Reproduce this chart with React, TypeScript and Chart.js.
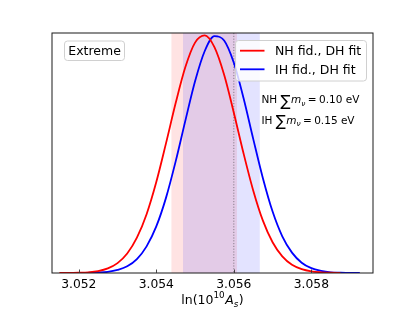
import React, { useEffect, useRef } from "react";
import { Chart, registerables } from "chart.js";

Chart.register(...registerables);

// ---- data ----
const redX = [3.0515, 3.05175, 3.052, 3.05225, 3.0525, 3.05275, 3.053, 3.05325, 3.0535, 3.05375, 3.054, 3.05425, 3.0545, 3.05475, 3.055, 3.05525, 3.0555, 3.05575, 3.056, 3.05625, 3.0565, 3.05675, 3.057, 3.05725, 3.0575, 3.05775, 3.058, 3.05825, 3.0585, 3.05875];
const redY = [0.0, 0.0, 0.001, 0.003, 0.008, 0.019, 0.041, 0.081, 0.147, 0.245, 0.379, 0.54, 0.708, 0.858, 0.96, 0.99, 0.941, 0.826, 0.668, 0.499, 0.344, 0.218, 0.128, 0.069, 0.034, 0.016, 0.007, 0.003, 0.001, 0.0];

const blueX = [3.05225, 3.0525, 3.05275, 3.053, 3.05325, 3.0535, 3.05375, 3.054, 3.05425, 3.0545, 3.05475, 3.055, 3.05525, 3.0555, 3.05575, 3.056, 3.05625, 3.0565, 3.05675, 3.057, 3.05725, 3.0575, 3.05775, 3.058, 3.05825, 3.0585, 3.05875, 3.059, 3.05925];
const blueY = [0.001, 0.002, 0.005, 0.013, 0.028, 0.058, 0.111, 0.194, 0.313, 0.465, 0.635, 0.799, 0.925, 0.987, 0.969, 0.876, 0.729, 0.559, 0.395, 0.256, 0.153, 0.085, 0.043, 0.02, 0.009, 0.003, 0.001, 0.0, 0.0];

const redBand = [3.05439, 3.05608];
const blueBand = [3.05469, 3.05667];
const fiducialX = 3.056;

const xTicks = [3.052, 3.054, 3.056, 3.058];
const xMin = 3.05131;
const xMax = 3.05959;

const seriesLabels = ["NH fid., DH fit", "IH fid., DH fit"];
const seriesColors = ["#ff0000", "#0000ff"];
const panelLabel = "Extreme";
const annoHier = ["NH", "IH"];
const annoSum = ["0.10 eV", "0.15 eV"];

const FAM = "'DejaVu Sans', sans-serif";

function roundRect(ctx: CanvasRenderingContext2D, x: number, y: number, w: number, h: number, r: number) {
  ctx.beginPath();
  ctx.moveTo(x + r, y);
  ctx.lineTo(x + w - r, y);
  ctx.arcTo(x + w, y, x + w, y + r, r);
  ctx.lineTo(x + w, y + h - r);
  ctx.arcTo(x + w, y + h, x + w - r, y + h, r);
  ctx.lineTo(x + r, y + h);
  ctx.arcTo(x, y + h, x, y + h - r, r);
  ctx.lineTo(x, y + r);
  ctx.arcTo(x, y, x + r, y, r);
  ctx.closePath();
}

const decor = {
  id: "decor",
  beforeDatasetsDraw(chart: any) {
    const { ctx, chartArea: a, scales } = chart;
    const xs = scales.x;
    ctx.save();
    const band = (r: number[], color: string) => {
      const x1 = xs.getPixelForValue(r[0]);
      const x2 = xs.getPixelForValue(r[1]);
      ctx.fillStyle = color;
      ctx.fillRect(x1, a.top, x2 - x1, a.bottom - a.top);
    };
    band(redBand, "rgba(255,0,0,0.11)");
    band(blueBand, "rgba(0,0,255,0.11)");
    const fx = xs.getPixelForValue(fiducialX);
    ctx.strokeStyle = "rgba(0,0,0,0.5)";
    ctx.lineWidth = 0.8;
    ctx.setLineDash([1.2, 1.6]);
    ctx.beginPath();
    ctx.moveTo(fx, a.top);
    ctx.lineTo(fx, a.bottom);
    ctx.stroke();
    ctx.restore();
  },
  afterDraw(chart: any) {
    const { ctx, chartArea: a, scales } = chart;
    const xs = scales.x;
    ctx.save();
    // frame
    ctx.strokeStyle = "#1a1a1a";
    ctx.lineWidth = 1;
    ctx.strokeRect(a.left, a.top, a.right - a.left, a.bottom - a.top);
    // inward ticks
    ctx.strokeStyle = "#333";
    ctx.lineWidth = 0.9;
    for (const t of xTicks) {
      const px = Math.round(xs.getPixelForValue(t)) + 0.5;
      ctx.beginPath();
      ctx.moveTo(px, a.bottom);
      ctx.lineTo(px, a.bottom - 3.5);
      ctx.stroke();
    }

    // panel label box
    roundRect(ctx, 64.5, 41, 60, 19.5, 3);
    ctx.fillStyle = "rgba(255,255,255,0.8)";
    ctx.fill();
    ctx.strokeStyle = "#d0d0d0";
    ctx.lineWidth = 1;
    ctx.stroke();
    ctx.fillStyle = "#000";
    ctx.font = `12.5px ${FAM}`;
    ctx.textAlign = "center";
    ctx.textBaseline = "alphabetic";
    ctx.fillText(panelLabel, 94.6, 55.2);

    // legend box
    roundRect(ctx, 235.5, 40.5, 131, 40.5, 3);
    ctx.fillStyle = "rgba(255,255,255,0.8)";
    ctx.fill();
    ctx.strokeStyle = "#d0d0d0";
    ctx.stroke();
    const rows = [50.7, 69.3];
    ctx.textAlign = "left";
    for (let i = 0; i < seriesLabels.length; i++) {
      ctx.strokeStyle = seriesColors[i];
      ctx.lineWidth = 1.8;
      ctx.beginPath();
      ctx.moveTo(240, rows[i]);
      ctx.lineTo(264.5, rows[i]);
      ctx.stroke();
      ctx.fillStyle = "#000";
      ctx.font = `12.5px ${FAM}`;
      ctx.fillText(seriesLabels[i], 275, rows[i] + 4.6);
    }

    // annotations  "NH ∑mν = 0.10 eV"
    const base = [103.4, 123.8];
    for (let i = 0; i < annoHier.length; i++) {
      let cx = 261.5;
      const by = base[i];
      ctx.fillStyle = "#000";
      ctx.font = `10.5px ${FAM}`;
      ctx.fillText(annoHier[i] + " ", cx, by);
      cx += ctx.measureText(annoHier[i] + " ").width;
      ctx.font = `15px ${FAM}`;
      ctx.fillText("\u2211", cx, by + 2.2);
      cx += ctx.measureText("\u2211").width + 0.3;
      ctx.font = `italic 10.5px ${FAM}`;
      ctx.fillText("m", cx, by);
      cx += ctx.measureText("m").width;
      ctx.font = `italic 7.4px ${FAM}`;
      ctx.fillText("\u03bd", cx, by + 2.2);
      cx += ctx.measureText("\u03bd").width + 2.4;
      ctx.font = `10.5px ${FAM}`;
      ctx.fillText("=", cx, by);
      cx += ctx.measureText("=").width + 2.4;
      ctx.fillText(annoSum[i], cx, by);
    }

    // x axis title ln(10^10 A_s)
    const tb = 304.4;
    ctx.font = `12.5px ${FAM}`;
    const w1 = ctx.measureText("ln(10").width;
    ctx.font = `8.8px ${FAM}`;
    const w2 = ctx.measureText("10").width;
    ctx.font = `italic 12.5px ${FAM}`;
    const w3 = ctx.measureText("A").width;
    ctx.font = `italic 8.8px ${FAM}`;
    const w4 = ctx.measureText("s").width;
    ctx.font = `12.5px ${FAM}`;
    const w5 = ctx.measureText(")").width;
    const total = w1 + w2 + w3 + w4 + w5 + 1;
    let tx = (a.left + a.right) / 2 - total / 2;
    ctx.fillText("ln(10", tx, tb);
    tx += w1;
    ctx.font = `8.8px ${FAM}`;
    ctx.fillText("10", tx, tb - 6.4);
    tx += w2 + 0.5;
    ctx.font = `italic 12.5px ${FAM}`;
    ctx.fillText("A", tx, tb);
    tx += w3;
    ctx.font = `italic 8.8px ${FAM}`;
    ctx.fillText("s", tx, tb + 2.2);
    tx += w4 + 0.5;
    ctx.font = `12.5px ${FAM}`;
    ctx.fillText(")", tx, tb);
    ctx.restore();
  },
};

export default function App() {
  const ref = useRef<HTMLCanvasElement>(null);
  useEffect(() => {
    if (!ref.current) return;
    const chart = new Chart(ref.current, {
      type: "line",
      data: {
        datasets: [
          {
            label: seriesLabels[0],
            data: redX.map((x, i) => ({ x, y: redY[i] })),
            borderColor: seriesColors[0],
            borderWidth: 1.8,
            pointRadius: 0,
            fill: false,
            cubicInterpolationMode: "monotone",
          },
          {
            label: seriesLabels[1],
            data: blueX.map((x, i) => ({ x, y: blueY[i] })),
            borderColor: seriesColors[1],
            borderWidth: 1.8,
            pointRadius: 0,
            fill: false,
            cubicInterpolationMode: "monotone",
          },
        ],
      },
      options: {
        animation: false,
        responsive: false,
        maintainAspectRatio: false,
        layout: { padding: { left: 52, right: 42, top: 33, bottom: 0 } },
        plugins: { legend: { display: false }, tooltip: { enabled: false } },
        scales: {
          x: {
            type: "linear",
            min: xMin,
            max: xMax,
            grid: { display: false, drawTicks: false },
            border: { display: false },
            afterBuildTicks: (s: any) => {
              s.ticks = xTicks.map((v) => ({ value: v }));
            },
            afterFit: (s: any) => {
              s.height = 38;
            },
            ticks: {
              font: { family: FAM, size: 12.3 },
              color: "#000",
              padding: 4,
              maxRotation: 0,
              autoSkip: false,
              callback: (v: any) => Number(v).toFixed(3),
            },
          },
          y: { display: false, min: 0, max: 1 },
        },
      },
      plugins: [decor],
    } as any);
    return () => chart.destroy();
  }, []);
  return (
    <div style={{ position: "absolute", left: 0, top: 0, width: 415, height: 311, background: "#fff" }}>
      <canvas ref={ref} width={415} height={311} style={{ width: 415, height: 311, display: "block" }} />
    </div>
  );
}
